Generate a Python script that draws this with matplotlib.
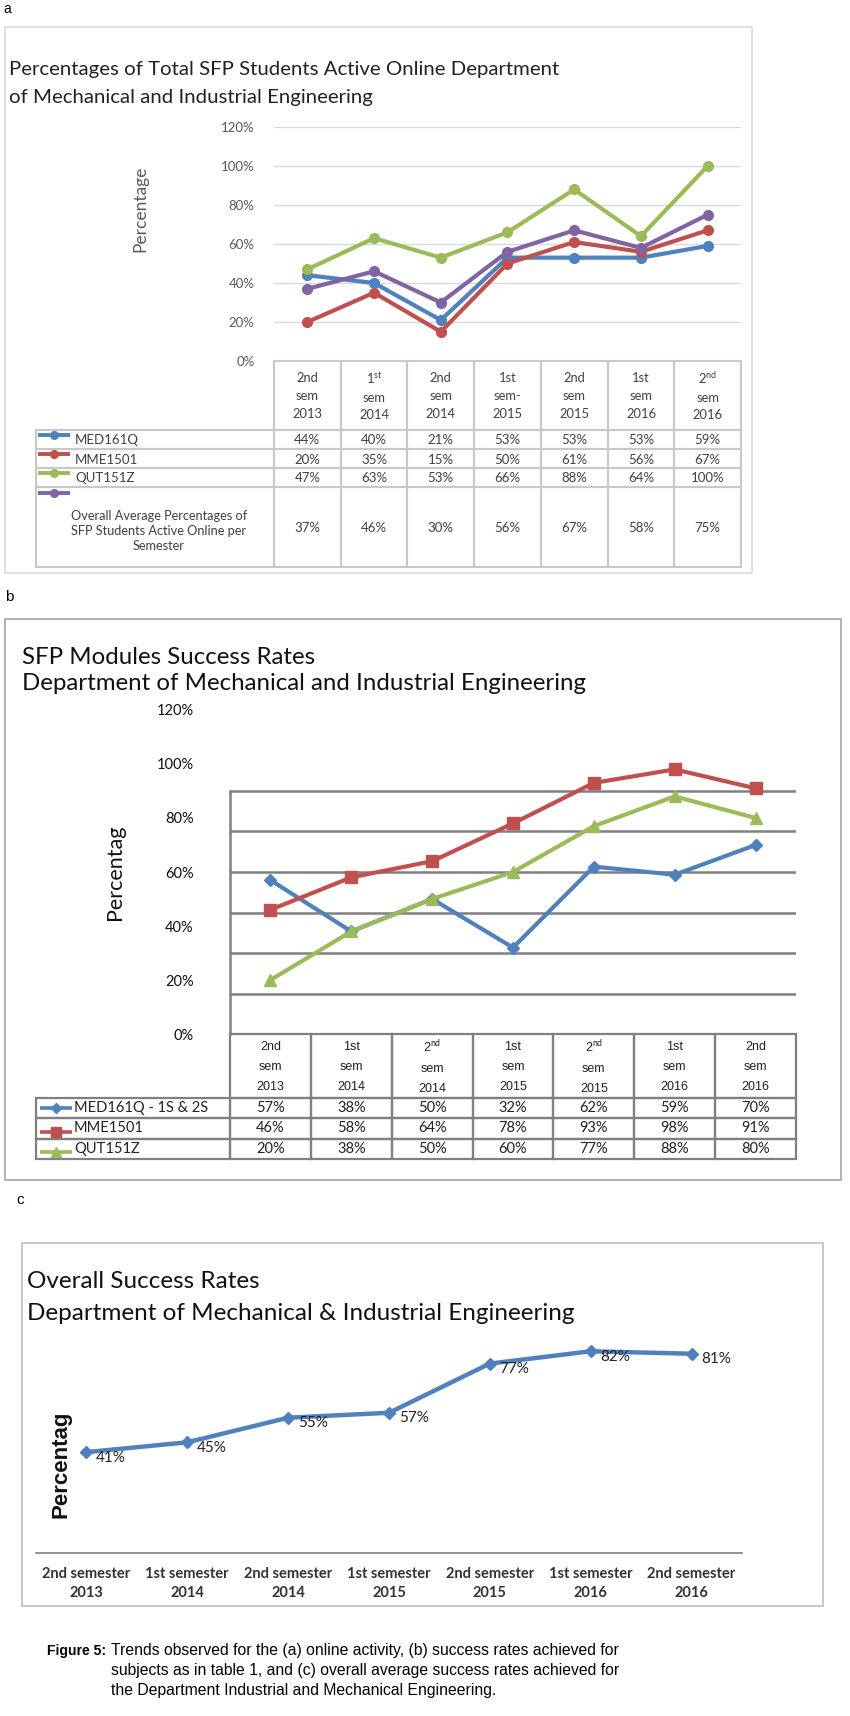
import numpy as np
import matplotlib
matplotlib.use('Agg')
import matplotlib.pyplot as plt
from matplotlib.patches import Rectangle
from matplotlib import rcParams

rcParams['font.family'] = ['Lato', 'DejaVu Sans']
rcParams['mathtext.fontset'] = 'custom'
rcParams['mathtext.rm'] = 'Lato'
rcParams['mathtext.it'] = 'Lato'

# ---------------- data ----------------
hdr_a = ['2nd\nsem\n2013', '1$^{\\mathrm{st}}$\nsem\n2014', '2nd\nsem\n2014', '1st\nsem-\n2015',
         '2nd\nsem\n2015', '1st\nsem\n2016', '2$^{\\mathrm{nd}}$\nsem\n2016']
names_a = ['MED161Q', 'MME1501', 'QUT151Z',
           'Overall Average Percentages of\nSFP Students Active Online per\nSemester']
med_a = [44, 40, 21, 53, 53, 53, 59]
mme_a = [20, 35, 15, 50, 61, 56, 67]
qut_a = [47, 63, 53, 66, 88, 64, 100]
avg_a = [37, 46, 30, 56, 67, 58, 75]
series_a = [med_a, mme_a, qut_a, avg_a]
colors_a = ['#4f81bd', '#c0504d', '#9bbb59', '#8064a2']

hdr_b = ['2nd\nsem\n2013', '1st\nsem\n2014', '2$^{\\mathrm{nd}}$\nsem\n2014', '1st\nsem\n2015',
         '2$^{\\mathrm{nd}}$\nsem\n2015', '1st\nsem\n2016', '2nd\nsem\n2016']
names_b = ['MED161Q - 1S & 2S', 'MME1501', 'QUT151Z']
med_b = [57, 38, 50, 32, 62, 59, 70]
mme_b = [46, 58, 64, 78, 93, 98, 91]
qut_b = [20, 38, 50, 60, 77, 88, 80]
series_b = [med_b, mme_b, qut_b]
colors_b = ['#4f81bd', '#c0504d', '#9bbb59']
markers_b = ['D', 's', '^']

cats_c = ['2nd semester\n2013', '1st semester\n2014', '2nd semester\n2014', '1st semester\n2015',
          '2nd semester\n2015', '1st semester\n2016', '2nd semester\n2016']
overall_c = [41, 45, 55, 57, 77, 82, 81]

# ---------------- layout helpers (pixel coords, top-left origin) ----------------
W, H = 850, 1716
fig = plt.figure(figsize=(W / 100, H / 100), dpi=100)
ov = fig.add_axes([0, 0, 1, 1])
ov.set_xlim(0, W)
ov.set_ylim(H, 0)
ov.axis('off')


def axes_px(x0, y0, x1, y1):
    ax = fig.add_axes([x0 / W, 1 - y1 / H, (x1 - x0) / W, (y1 - y0) / H])
    ax.patch.set_alpha(0)
    return ax


def box(x0, y0, x1, y1, color, lw=1.0):
    ov.add_patch(Rectangle((x0, y0), x1 - x0, y1 - y0, fill=False, ec=color, lw=lw))


# =============== panel a ===============
ov.text(3, 9, 'a', fontsize=10, family='Liberation Sans', va='center')
box(5, 27, 752, 573, '#d9d9d9', 1.2)
ov.text(9, 70, 'Percentages of Total SFP Students Active Online Department', fontsize=14.7, va='center', color='#222222')
ov.text(9, 98, 'of Mechanical and Industrial Engineering', fontsize=14.7, va='center', color='#222222')

axa_x0, axa_x1 = 274, 741
axa = axes_px(axa_x0, 127, axa_x1, 361)
x = np.arange(7)
for s, c in zip(series_a, colors_a):
    axa.plot(x, s, '-o', color=c, lw=3, ms=7, zorder=3)
axa.set_xlim(-0.5, 6.5)
axa.set_ylim(0, 120)
axa.set_yticks(range(0, 121, 20))
axa.set_yticklabels(['%d%%' % v for v in range(0, 121, 20)])
axa.tick_params(axis='y', length=0, pad=14, labelsize=9.5, labelcolor='#595959')
axa.set_xticks([])
axa.grid(axis='y', color='#d9d9d9', lw=1.0)
for sp in axa.spines.values():
    sp.set_visible(False)
axa.set_ylabel('Percentage', fontsize=12.5, color='#595959', labelpad=0)
axa.yaxis.set_label_coords(-0.27, 0.65)

# data table a
cw = (axa_x1 - axa_x0) / 7.0
rows_a = [(361, 430), (430, 449), (449, 468), (468, 487), (487, 567)]
tc = '#c8c8c8'
for i in range(7):
    cx = axa_x0 + i * cw
    box(cx, rows_a[0][0], cx + cw, rows_a[0][1], tc, 1.5)
    ov.text(cx + cw / 2, 396, hdr_a[i], ha='center', va='center', fontsize=9.3,
            color='#404040', linespacing=1.55)
for r, (s, c, nm) in enumerate(zip(series_a, colors_a, names_a)):
    y0, y1 = rows_a[r + 1]
    box(36, y0, axa_x0, y1, tc, 1.5)
    ky = y0 + 5 if r < 3 else y0 + 6
    ov.plot([38, 70], [ky, ky], color=c, lw=2.8, solid_capstyle='butt')
    ov.plot([54], [ky], 'o', color=c, ms=5.5)
    if r < 3:
        ov.text(75, (y0 + y1) / 2 + 1, nm, va='center', fontsize=9.5, color='#404040')
    else:
        ov.text(159, (y0 + y1) / 2 + 4, nm, va='center', ha='center', fontsize=9.2,
                color='#404040', linespacing=1.35)
    for i in range(7):
        cx = axa_x0 + i * cw
        box(cx, y0, cx + cw, y1, tc, 1.5)
        ov.text(cx + cw / 2, (y0 + y1) / 2 + 1, '%d%%' % s[i], ha='center', va='center',
                fontsize=9.5, color='#404040')

# =============== panel b ===============
ov.text(5, 597, 'b', fontsize=11, family='Liberation Sans', va='center')
box(5, 619, 841, 1180, '#a6a6a6', 1.2)
ov.text(22, 658, 'SFP Modules Success Rates', fontsize=17.3, va='center', color='#111111')
ov.text(22, 684, 'Department of Mechanical and Industrial Engineering', fontsize=17.3, va='center', color='#111111')

axb_x0, axb_x1 = 230, 796
axb = axes_px(axb_x0, 710, axb_x1, 1034)
for s, c, m in zip(series_b, colors_b, markers_b):
    axb.plot(x, s, '-', marker=m, color=c, lw=3, ms=8 if m != 'D' else 6, zorder=3)
axb.set_xlim(-0.5, 6.5)
axb.set_ylim(0, 120)
axb.set_yticks(range(0, 121, 20))
axb.set_yticklabels(['%d%%' % v for v in range(0, 121, 20)])
axb.tick_params(axis='y', length=0, pad=26, labelsize=10.5, labelcolor='#111111')
axb.set_xticks([])
for g in range(15, 91, 15):
    axb.axhline(g, color='#808080', lw=1.8, zorder=1)
for sp in ['top', 'right', 'bottom']:
    axb.spines[sp].set_visible(False)
axb.spines['left'].set_bounds(0, 90)
axb.spines['left'].set_color('#808080')
axb.spines['left'].set_linewidth(1.8)
axb.set_ylabel('Percentag', fontsize=15.5, color='#111111')
axb.yaxis.set_label_coords(-0.185, 0.5)

cwb = (axb_x1 - axb_x0) / 7.0
rows_b = [(1034, 1098), (1098, 1118), (1118, 1139), (1139, 1159)]
tb = '#808080'
for i in range(7):
    cx = axb_x0 + i * cwb
    box(cx, rows_b[0][0], cx + cwb, rows_b[0][1], tb, 1.6)
    ov.text(cx + cwb / 2, 1067, hdr_b[i], ha='center', va='center', fontsize=9,
            family=['Liberation Sans', 'DejaVu Sans'], color='#222222', linespacing=1.9)
for r, (s, c, m, nm) in enumerate(zip(series_b, colors_b, markers_b, names_b)):
    y0, y1 = rows_b[r + 1]
    box(36, y0, axb_x0, y1, tb, 1.6)
    ky = (y0 + y1) / 2 + (0 if r == 0 else 3)
    ov.plot([40, 72], [ky, ky], color=c, lw=2.6, solid_capstyle='butt')
    ov.plot([56], [ky], marker=m, color=c, ms=7 if m != 'D' else 5)
    ov.text(74, (y0 + y1) / 2, nm, va='center', fontsize=10.5, color='#222222')
    for i in range(7):
        cx = axb_x0 + i * cwb
        box(cx, y0, cx + cwb, y1, tb, 1.6)
        ov.text(cx + cwb / 2, (y0 + y1) / 2, '%d%%' % s[i], ha='center', va='center',
                fontsize=10.5, color='#222222')

# =============== panel c ===============
ov.text(16, 1200, 'c', fontsize=11, family='Liberation Sans', va='center')
box(22, 1243, 823, 1606, '#bfbfbf', 1.2)
ov.text(27, 1281, 'Overall Success Rates', fontsize=17.5, va='center', color='#111111')
ov.text(27, 1314, 'Department of Mechanical & Industrial Engineering', fontsize=17.5, va='center', color='#111111')

axc = axes_px(36, 1307, 742, 1553)
axc.plot(x, overall_c, '-D', color='#4f81bd', lw=3.2, ms=6.5, zorder=3)
for i, v in enumerate(overall_c):
    axc.annotate('%d%%' % v, (i, v), xytext=(7, -4), textcoords='offset points',
                 ha='left', va='center', fontsize=11, color='#222222')
axc.set_xlim(-0.5, 6.5)
axc.set_ylim(0, 100)
axc.set_yticks([])
axc.set_xticks(x)
axc.set_xticklabels(cats_c, fontsize=10.5, color='#333333', fontweight='bold', linespacing=1.45)
axc.tick_params(axis='x', length=0, pad=10)
for sp in ['top', 'right', 'left']:
    axc.spines[sp].set_visible(False)
axc.spines['bottom'].set_color('#808080')
axc.spines['bottom'].set_linewidth(1.2)
axc.set_ylabel('Percentag', fontsize=16, color='#111111', fontweight='bold',
               family=['Liberation Sans', 'DejaVu Sans'])
axc.yaxis.set_label_coords(0.05, 0.36)

# =============== caption ===============
cap = ['Trends observed for the (a) online activity, (b) success rates achieved for',
       'subjects as in table 1, and (c) overall average success rates achieved for',
       'the Department Industrial and Mechanical Engineering.']
ov.text(47, 1651, 'Figure 5:', fontsize=10, fontweight='bold', family='Liberation Sans', va='center')
for k, line in enumerate(cap):
    ov.text(111, 1651 + k * 20, line, fontsize=11.3, family='Liberation Sans', va='center')

fig.savefig('out.png', dpi=100)
plt.close()
